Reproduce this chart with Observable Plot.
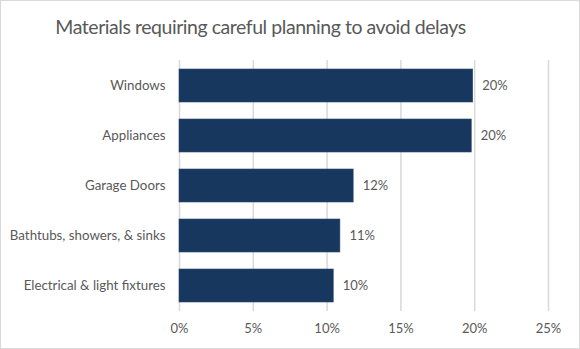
<!DOCTYPE html>
<html>
<head>
<meta charset="utf-8">
<script src="https://cdn.jsdelivr.net/npm/d3@7"></script>
<script src="https://cdn.jsdelivr.net/npm/@observablehq/plot@0.6"></script>
<style>
  html, body { margin: 0; padding: 0; background: #fff; }
  #wrap { position: relative; width: 580px; height: 349px; overflow: hidden; background: #fff; }
  #wrap::after { content: ""; position: absolute; inset: 0; border: 1px solid #d9d9d9; pointer-events: none; }
  #title { position: absolute; left: 0; top: 0; width: 521px; height: 48px; line-height: 54px; text-align: center;
           font-family: Lato, sans-serif; font-size: 19.5px; letter-spacing: -0.45px; color: #595959; white-space: nowrap; }
  #chart { position: absolute; left: 0; top: 48px; }
</style>
</head>
<body>
<div id="wrap">
  <div id="title">Materials requiring careful planning to avoid delays</div>
  <div id="chart"></div>
</div>
<script>
const categories = ["Windows", "Appliances", "Garage Doors", "Bathtubs, showers, & sinks", "Electrical & light fixtures"];
const values = [19.9, 19.8, 11.8, 10.9, 10.45];
const tickValues = [0, 5, 10, 15, 20, 25];

const data = categories.map((c, i) => ({category: c, value: values[i]}));
const font = "Lato, sans-serif";

const plot = Plot.plot({
  width: 580,
  height: 301,
  marginLeft: 179,
  marginRight: 32,
  marginTop: 12,
  marginBottom: 38,
  style: {fontFamily: font, fontSize: "12px", color: "#595959", background: "transparent"},
  x: {domain: [0, 25], ticks: tickValues, tickFormat: d => d + "%", label: null, tickSize: 0, tickPadding: 12},
  y: {domain: categories, label: null, tickSize: 0, tickPadding: 14, paddingInner: 0.34, paddingOuter: 0.17},
  marks: [
    Plot.gridX(tickValues, {stroke: "#d9d9d9", strokeOpacity: 1, strokeWidth: 1.5}),
    Plot.barX(data, {x: "value", y: "category", fill: "#17375E", stroke: "#2a4a72", strokeWidth: 0.6}),
    Plot.text(data, {x: "value", y: "category", text: d => Math.round(d.value) + "%", dx: 9, textAnchor: "start", fill: "#595959", fontSize: 13}),
    Plot.axisX({ticks: tickValues, tickFormat: d => d + "%", tickSize: 0, tickPadding: 12, label: null, fontSize: 13}),
    Plot.axisY({tickSize: 0, tickPadding: 14, label: null, fontSize: 13.3})
  ]
});
document.getElementById("chart").appendChild(plot);
</script>
</body>
</html>
